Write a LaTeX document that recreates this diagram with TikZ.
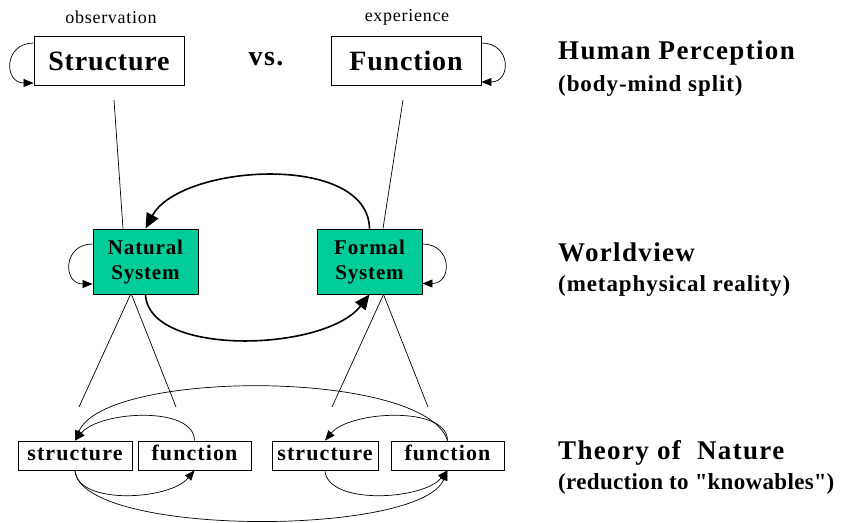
\documentclass[tikz,border=0pt]{standalone}
\usepackage{fontspec}
\setmainfont{Liberation Serif}
\usetikzlibrary{arrows.meta}
\definecolor{sysgreen}{HTML}{00CC99}
\newcommand{\hdfont}{\fontsize{27}{30}\selectfont\bfseries\addfontfeature{LetterSpace=5}}
\newcommand{\subfont}{\fontsize{23}{26}\selectfont\bfseries\addfontfeature{LetterSpace=4}}

\begin{document}
\begin{tikzpicture}[x=1pt,y=1pt,
	bigbox/.style={draw, line width=0.9pt, minimum width=150pt, minimum height=49pt, inner sep=0pt, font=\fontsize{28}{30}\selectfont\bfseries\addfontfeature{LetterSpace=3}},
	sysbox/.style={draw, fill=sysgreen, line width=0.9pt, minimum width=105pt, minimum height=65pt, inner sep=0pt, align=center, font=\fontsize{21}{25}\selectfont\bfseries\addfontfeature{LetterSpace=4}},
	smallbox/.style={draw, line width=0.8pt, minimum height=29pt, inner sep=0pt, text height=16pt, text depth=5pt, font=\fontsize{22}{24}\selectfont\bfseries\addfontfeature{LetterSpace=5}},
	tag/.style={font=\fontsize{18}{20}\selectfont\addfontfeature{LetterSpace=4}},
	rule/.style={line width=0.7pt},
	arr/.style={line width=0.7pt, -{Triangle[length=10pt,width=8pt]}},
	bigarr/.style={line width=1.6pt, -{Triangle[length=15pt,width=13pt]}},
	lbl/.style={anchor=west, inner sep=0pt}]
	\useasboundingbox (0,0) rectangle (851,522);

	% human perception
	\node[bigbox] (st) at (109,461) {Structure};
	\node[bigbox] (fu) at (406,461) {Function};
	\node[tag] (obs) at (111,505) {observation};
	\node[tag] (exp) at (407,505) {experience};
	\node[font=\fontsize{28}{30}\selectfont\bfseries\addfontfeature{LetterSpace=5}] (vs) at (266,463) {vs.};
	\draw[arr] ([yshift=18]st.west) .. controls +(-30,0) and +(-30,0) .. ([yshift=-22]st.west);
	\draw[arr] ([yshift=18]fu.east) .. controls +(30,0) and +(30,0) .. ([yshift=-21]fu.east);

	% worldview
	\node[sysbox] (nat) at (145.5,260.5) {Natural\\System};
	\node[sysbox] (form) at (369.5,260.5) {Formal\\System};
	\coordinate (stend) at (114,422);
	\coordinate (fuend) at (403,422);
	\draw[rule] (stend) -- ([xshift=-22.5]nat.north);
	\draw[rule] (fuend) -- ([xshift=13.5]form.north);
	\draw[bigarr] (form.north) .. controls (368,370) and (180,358) .. (nat.north);
	\draw[bigarr] (nat.south) .. controls (148,165) and (325,170) .. (form.south);
	\draw[arr] ([yshift=17.5]nat.west) .. controls +(-30,0) and +(-30,0) .. ([yshift=-22.5]nat.west);
	\draw[arr] ([yshift=17.5]form.east) .. controls +(30,0) and +(30,0) .. ([yshift=-22]form.east);

	% theory of nature
	\node[smallbox, minimum width=114pt] (s1) at (75,66.5) {structure};
	\node[smallbox, minimum width=113pt] (f1) at (194.5,66.5) {function};
	\node[smallbox, minimum width=106pt] (s2) at (325,66.5) {structure};
	\node[smallbox, minimum width=113pt] (f2) at (447.5,66.5) {function};
	\coordinate (n1) at (79,115);
	\coordinate (n2) at (176,115);
	\coordinate (n3) at (332,115);
	\coordinate (n4) at (428,115);
	\draw[rule] ([xshift=-15]nat.south) -- (n1);
	\draw[rule] ([xshift=-14]nat.south) -- (n2);
	\draw[rule] ([xshift=14]form.south) -- (n3);
	\draw[rule] ([xshift=14]form.south) -- (n4);
	\draw[arr] (f1.north) .. controls +(0,35) and +(25,30) .. (s1.north);
	\draw[arr] (f2.north) .. controls (425,153) and (105,153) .. (s1.north);
	\draw[arr] (f2.north) .. controls +(0,35) and +(25,30) .. (s2.north);
	\draw[arr] (s1.south) .. controls +(2,-35) and +(-25,-30) .. (f1.south);
	\draw[arr] (s1.south) .. controls (80,-15) and (420,-15) .. (f2.south);
	\draw[arr] (s2.south) .. controls +(2,-35) and +(-25,-30) .. (f2.south);

	% level labels
	\node[lbl, font=\hdfont] (hp) at (558,469) {Human Perception};
	\node[lbl, font=\subfont] (hps) at (558,436) {(body-mind split)};
	\node[lbl, font=\hdfont] (wv) at (558,270) {Worldview};
	\node[lbl, font=\subfont] (wvs) at (558,236) {(metaphysical reality)};
	\node[lbl, font=\hdfont] (tn) at (558,69) {Theory of\ \ Nature};
	\node[lbl, font=\subfont\addfontfeature{LetterSpace=1.5}] (tns) at (558,38) {(reduction to \textquotedbl knowables\textquotedbl)};
\end{tikzpicture}
\end{document}
